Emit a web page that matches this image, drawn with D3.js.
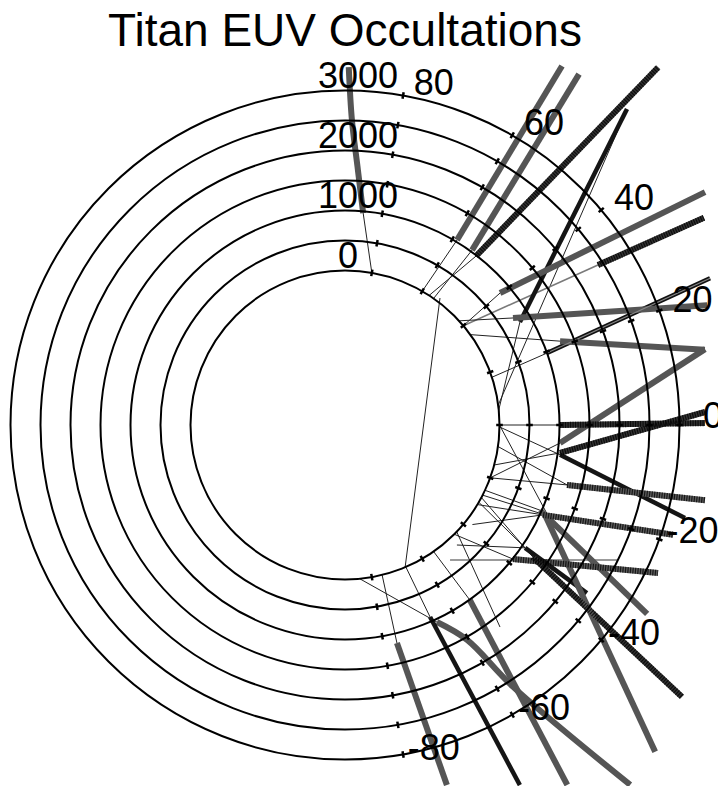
<!DOCTYPE html>
<html>
<head>
<meta charset="utf-8">
<script src="https://cdn.jsdelivr.net/npm/d3@7"></script>
<style>
  body { margin: 0; background: #fff; }
  text { font-family: "Liberation Sans", Arial, Helvetica, sans-serif; fill: #000; }
</style>
</head>
<body>
<div id="chart"></div>
<script>
var chartTitle = "Titan EUV Occultations";
var titanRadius = 2575; // km
var altitudeRings = [0, 500, 1000, 1500, 2000, 2500, 3000];
var altitudeLabels = [0, 1000, 2000, 3000];
var latitudeTicks = [-80, -60, -40, -20, 0, 20, 40, 60, 80];

// tangent point tracks, each point is [latitude deg, altitude km]
var trackPoints = [
  [[85.1, 970], [87.1, 1680], [88.7, 2510], [89.4, 3390]],
  [[58.8, 1030], [58.85, 4417]],
  [[54.0, 1028], [56.3, 4455]],
  [[52.2, 989], [48.8, 5350]],
  [[30.5, 809], [48.25, 4483]],
  [[40.4, 818], [32.9, 4572]],
  [[32.3, 2413], [30.0, 4332]],
  [[19.6, 999], [21.9, 3983]],
  [[32.5, 745], [18.3, 3782]],
  [[21.3, 1272], [11.8, 3553]],
  [[-4.8, 1021], [11.9, 3557]],
  [[0, 1008], [0.3, 3425]],
  [[-7.4, 1038], [2.07, 3429]],
  [[-7.9, 1043], [-15.3, 3300]],
  [[-15.1, 1258], [-11.8, 3553]],
  [[-24.4, 1050], [-18.5, 3192]],
  [[-38.6, 1007], [-25.3, 3195]],
  [[-34.3, 1058], [-34.8, 2335]],
  [[-35.1, 1253], [-38.9, 4642]],
  [[-23.6, 970], [-32.0, 3363]],
  [[-24.2, 1080], [-46.5, 4935]],
  [[-65.0, 1049], [-60.4, 1545], [-57.3, 2612], [-51.6, 5078]],
  [[-66.1, 925], [-64.1, 4097]],
  [[-54.5, 1010], [-58.3, 4475]],
  [[-76.6, 1160], [-74.2, 3662]]
];
var trackKind = [
  "gray", "gray", "gray", "hatch", "black", "gray", "hatch", "double",
  "gray", "gray", "gray", "hatch", "hatch", "black", "grayhatch", "grayhatch",
  "grayhatch", "black", "hatch", "gray", "gray", "gray", "black", "gray", "gray"
];

// thin lines of sight below the tracks
var connectorLines = [
  [[80, 0], [85.1, 970]],
  [[60, 0], [58.8, 1030]],
  [[55, 0], [54.0, 1028]],
  [[57, 0], [52.2, 989]],
  [[5.6, 0], [30.5, 809]],
  [[7.4, 0], [48.2, 4472]],
  [[40, 0], [40.4, 818]],
  [[40, 0], [32.3, 2413]],
  [[18, 0], [19.6, 999]],
  [[42.4, 0], [32.5, 745]],
  [[35.8, 0], [21.3, 1272]],
  [[-20, 0], [-4.8, 1021]],
  [[0, 0], [0, 1008]],
  [[-15, 0], [-7.4, 1038]],
  [[-0.7, 0], [-7.9, 1043]],
  [[-20, 0], [-15.1, 1258]],
  [[-31, 0], [-24.4, 1050]],
  [[-45, 0], [-38.6, 1007]],
  [[-52.1, 275], [-26.4, 2487]],
  [[-30, 0], [-34.3, 1058]],
  [[-28, 0], [-35.1, 1253]],
  [[-25, 0], [-23.6, 970]],
  [[-27, 0], [-24.2, 1080]],
  [[-84.5, 0], [-65.0, 1049]],
  [[-66.8, 0], [-66.1, 925]],
  [[-55, 0], [-54.5, 1010]],
  [[-76.1, 0], [-76.6, 1160]],
  [[53.2, 68], [-67.1, 0]],
  [[-43.7, 0], [-52.5, 1669]],
  [[0, 0], [-23.6, 1092]],
  [[-47, 160], [-34.3, 1058]],
  [[-38, 120], [-24.4, 1050]],
  [[-8, 0], [-15.1, 1258]]
];
var connectorKind = [
  "dark", "dark", "dark", "dark", "dark", "dark", "dark", "gray", "dark", "dark",
  "dark", "dark", "dark", "dark", "dark", "dark", "dark", "dark", "gray", "dark",
  "dark", "dark", "dark", "dark", "dark", "dark", "dark", "dark", "dark", "dark",
  "dark", "dark", "dark"
];

var width = 718, height = 786;
var cx = 345, cy = 425;

var svg = d3.select("#chart").append("svg")
    .attr("width", width)
    .attr("height", height)
    .attr("viewBox", "0 0 " + width + " " + height);

// radial distance from Titan's centre in km -> pixels
var r = d3.scaleLinear()
  .domain([0, titanRadius + 3000])
  .range([0, 334.5]);

var angle = d3.scaleLinear()
  .domain([-180, 180])
  .range([-Math.PI, Math.PI]);

function pos(d) {
  var rr = r(titanRadius + d[1]), a = angle(d[0]);
  return [cx + rr * Math.cos(a), cy - rr * Math.sin(a)];
}

var line = d3.line()
  .x(function(d) { return pos(d)[0]; })
  .y(function(d) { return pos(d)[1]; })
  .curve(d3.curveCatmullRom);

// thin lines of sight
svg.append("g").selectAll("path")
  .data(connectorLines)
  .enter().append("path")
    .attr("d", line)
    .attr("fill", "none")
    .attr("stroke", function(d, i) { return connectorKind[i] == "gray" ? "#7a7a7a" : "#222"; })
    .attr("stroke-width", function(d, i) { return connectorKind[i] == "gray" ? 1.6 : 1; });

// thick tracks
var base = {
  gray: { color: "#555", w: 6 },
  black: { color: "#151515", w: 4.5 },
  double: { color: "#111", w: 4.5 },
  hatch: { color: "#333", w: 6 },
  grayhatch: { color: "#5c5c5c", w: 6 }
};
var tracks = svg.append("g");
tracks.selectAll("path.track")
  .data(trackPoints)
  .enter().append("path")
    .attr("class", "track")
    .attr("d", line)
    .attr("fill", "none")
    .attr("stroke", function(d, i) { return base[trackKind[i]].color; })
    .attr("stroke-width", function(d, i) { return base[trackKind[i]].w; });

// stripes on the hatched tracks
tracks.selectAll("path.stripe")
  .data(trackPoints.filter(function(d, i) { return trackKind[i] == "hatch" || trackKind[i] == "grayhatch"; }))
  .enter().append("path")
    .attr("class", "stripe")
    .attr("d", line)
    .attr("fill", "none")
    .attr("stroke", "#000")
    .attr("stroke-opacity", 0.75)
    .attr("stroke-width", 6)
    .attr("stroke-dasharray", "1.2,1.3");

// the doubled track has a light core
tracks.selectAll("path.core")
  .data(trackPoints.filter(function(d, i) { return trackKind[i] == "double"; }))
  .enter().append("path")
    .attr("class", "core")
    .attr("d", line)
    .attr("fill", "none")
    .attr("stroke", "#888")
    .attr("stroke-width", 1.2);

// altitude rings
svg.append("g").selectAll("circle")
  .data(altitudeRings)
  .enter().append("circle")
    .attr("cx", cx)
    .attr("cy", cy)
    .attr("r", function(d) { return r(titanRadius + d); })
    .attr("fill", "none")
    .attr("stroke", "#000")
    .attr("stroke-width", 2);

// latitude ticks on every ring
var tickData = [];
altitudeRings.forEach(function(a) {
  latitudeTicks.forEach(function(l) { tickData.push([l, a]); });
});
svg.append("g").selectAll("line")
  .data(tickData)
  .enter().append("line")
    .attr("x1", function(d) { return pos([d[0], d[1] - 55])[0]; })
    .attr("y1", function(d) { return pos([d[0], d[1] - 55])[1]; })
    .attr("x2", function(d) { return pos([d[0], d[1] + 55])[0]; })
    .attr("y2", function(d) { return pos([d[0], d[1] + 55])[1]; })
    .attr("stroke", "#000")
    .attr("stroke-width", 2.5);

// altitude labels
svg.append("g").selectAll("text")
  .data(altitudeLabels)
  .enter().append("text")
    .attr("x", function(d) { return cx + (d == 0 ? 3 : 13); })
    .attr("y", function(d) { return cy - r(titanRadius + d) - 3; })
    .attr("text-anchor", "middle")
    .style("font-size", "36px")
    .text(function(d) { return d; });

// latitude labels
svg.append("g").selectAll("text")
  .data(latitudeTicks)
  .enter().append("text")
    .attr("x", function(d) { return pos([d, 3058])[0] + 30; })
    .attr("y", function(d) { return pos([d, 3058])[1] + 2.5; })
    .attr("text-anchor", "middle")
    .style("font-size", "36px")
    .text(function(d) { return d; });

svg.append("text")
  .attr("x", cx)
  .attr("y", 46)
  .attr("text-anchor", "middle")
  .style("font-size", "46px")
  .text(chartTitle);
</script>
</body>
</html>
